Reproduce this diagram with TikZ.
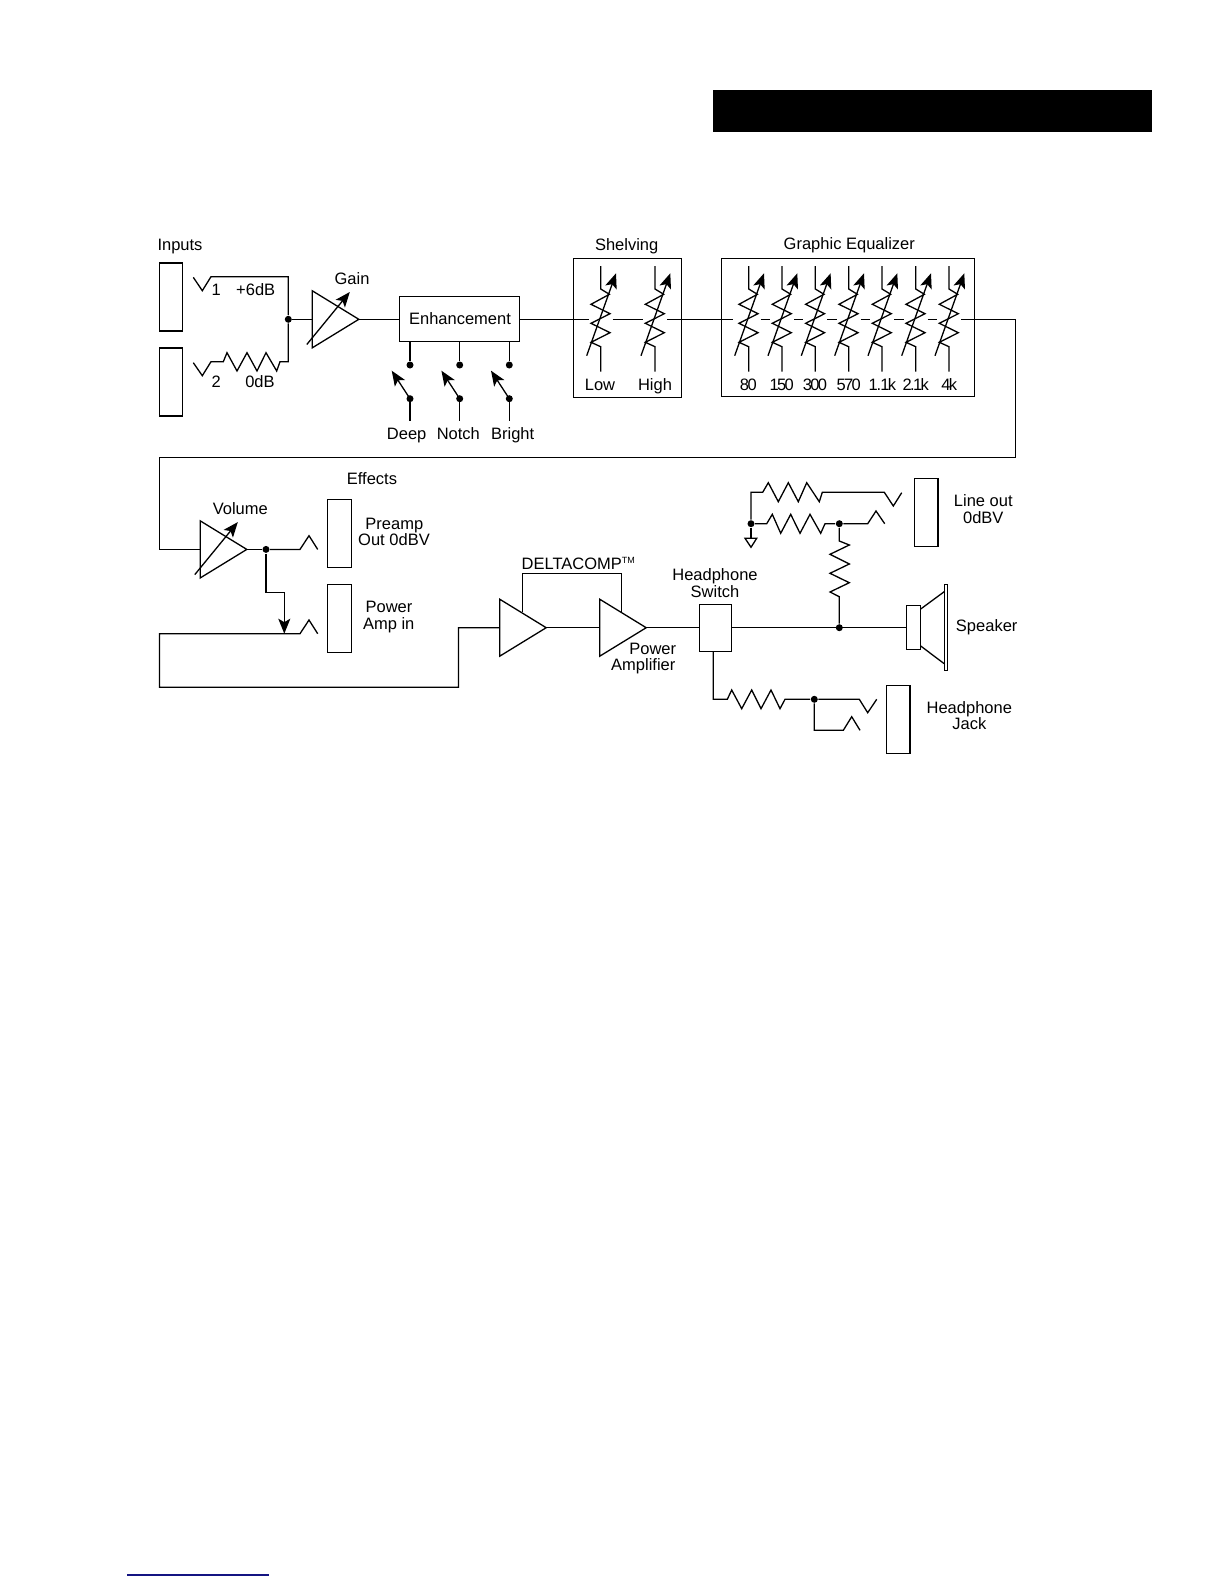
\documentclass[tikz,border=0pt]{standalone}
\usepackage{fontspec}
\setmainfont{Liberation Sans}
\usetikzlibrary{arrows.meta,calc}
\definecolor{rulenavy}{RGB}{20,20,130}
\tikzset{
  x=1pt,y=-1pt,
  every path/.style={line width=1.3pt,line join=miter},
  lbl/.style={inner sep=0pt,outer sep=0pt,text height=11.8pt,text depth=0pt,font=\fontsize{16.5}{18}\selectfont,text=black},
  numlbl/.style={lbl,font=\fontsize{16.5}{18}\selectfont\addfontfeature{LetterSpace=-10}},
  boxn/.style={draw,inner sep=0pt,outer sep=0pt,fill=white},
  jackbox/.style={boxn,minimum width=23.5pt,minimum height=68pt},
  jdot/.style={circle,fill=black,draw=none,inner sep=0pt,minimum size=7pt},
  arr/.style={-{Stealth[length=15pt,width=12pt,inset=3.5pt]}},
  varres/.pic={
    \coordinate (-w) at (-12,0);
    \coordinate (-e) at (12,0);
    \draw (0,-53.3)--(0,-30.3)--(8.7,-25)--(-9.7,-15)--(9.3,-5.6)--(-9.7,4)--(9.3,13.4)--(-9.7,23)--(0,27.4)--(0,52.4);
    \draw[arr] (-14,36.4)--(15.3,-46);
  },
  amp/.pic={
    \coordinate (-in) at (0,0);
    \coordinate (-out) at (46.5,0);
    \draw (0,-28.5)--(0,28.5)--(46.5,0)--cycle;
  },
  varamp/.pic={
    \coordinate (-in) at (0,0);
    \coordinate (-out) at (46.5,0);
    \draw (0,-28.5)--(0,28.5)--(46.5,0)--cycle;
    \draw[arr] (-5.5,25.2)--(37.5,-27.3);
  },
  swpole/.pic={
    \coordinate (-p) at (0,0);
    \node[jdot] at (0,0) {};
    \draw[arr] (0,0)--(-18.3,-28);
  }
}
\begin{document}
\begin{tikzpicture}
\useasboundingbox (0,0) rectangle (1224,1584);
% header and foot rule
\fill[black] (713,89.7) rectangle (1152,131.7);
\draw[rulenavy,line width=1.4pt] (127,1575)--(269,1575);

% input section
\node[lbl] (tInputs) at (180,245) {Inputs};
\node[jackbox] (in1) at (171,297) {};
\node[jackbox] (in2) at (171,382) {};
\node[jdot] (jn1) at (288.3,319.3) {};
\coordinate (j1a) at (193.3,277.3);
\coordinate (j2a) at (193.3,362.7);
\draw (j1a)--(202.3,290.7)--(211,276.7)--(288.3,276.7)--(jn1);
\draw (j2a)--(202.3,375.7)--(211,361.7)--(223.3,361.7)--(227,352.7)--(237,371)--(247,352.7)--(257,371)--(266,352.7)--(276.7,371)--(280,361.7)--(288.3,361.7)--(jn1);
\node[lbl] (t1) at (216.3,289.3) {1};
\node[lbl] (t6) at (255.7,289.3) {+6dB};
\node[lbl] (t2) at (216.3,381.7) {2};
\node[lbl] (t0) at (260,381.7) {0dB};
\pic (gain) at (312.3,319.3) {varamp};
\node[lbl] (tGain) at (352,278.7) {Gain};
\draw (jn1)--(gain-in);

% enhancement
\node[boxn,minimum width=120.4pt,minimum height=45pt] (enh) at (459.5,319.3) {};
\node[lbl] (tEnh) at (460,318.7) {Enhancement};
\draw (gain-out)--(enh.west);
\node[jdot] (d1) at (410,365) {};
\node[jdot] (d2) at (459.7,365) {};
\node[jdot] (d3) at (509.3,365) {};
\draw[line width=1.7pt] (d1|-enh.south)--(d1);
\draw (d2|-enh.south)--(d2);
\draw (d3|-enh.south)--(d3);
\pic (s1) at (410,398.7) {swpole};
\pic (s2) at (459.7,398.7) {swpole};
\pic (s3) at (509.3,398.7) {swpole};
\coordinate (e1) at (410,420.7);
\coordinate (e2) at (459.7,420.7);
\coordinate (e3) at (509.3,420.7);
\draw[line width=1.7pt] (s1-p)--(e1);
\draw (s2-p)--(e2);
\draw (s3-p)--(e3);
\node[lbl] (tDeep) at (406.7,433.3) {Deep};
\node[lbl] (tNotch) at (458.3,433.3) {Notch};
\node[lbl] (tBright) at (512.7,433.3) {Bright};

% shelving
\node[lbl] (tShelv) at (626.7,244.3) {Shelving};
\node[boxn,minimum width=108.4pt,minimum height=139pt] (shelf) at (627.5,327.8) {};
\pic (lo) at (600.7,319.3) {varres};
\pic (hi) at (655,319.3) {varres};
\node[lbl] (tLow) at (600,384.3) {Low};
\node[lbl] (tHigh) at (655,384.3) {High};
\draw (enh.east)--(lo-w);
\draw (lo-e)--(hi-w);

% graphic equaliser
\node[lbl] (tGeq) at (849.3,244) {Graphic Equalizer};
\node[boxn,minimum width=252.6pt,minimum height=138pt] (geq) at (848,327.3) {};
\pic (q1) at (748.7,319.3) {varres};
\pic (q2) at (782,319.3) {varres};
\pic (q3) at (815.3,319.3) {varres};
\pic (q4) at (848.7,319.3) {varres};
\pic (q5) at (882,319.3) {varres};
\pic (q6) at (915.7,319.3) {varres};
\pic (q7) at (949,319.3) {varres};
\coordinate (q1in) at (733.3,319.3);
\draw (hi-e)--(q1in);
\draw (q1-e)--(q2-w);
\draw (q2-e)--(q3-w);
\draw (q3-e)--(q4-w);
\draw (q4-e)--(q5-w);
\draw (q5-e)--(q6-w);
\draw (q6-e)--(q7-w);
\node[numlbl] (f1) at (748.3,384.3) {80};
\node[numlbl] (f2) at (781.7,384.3) {150};
\node[numlbl] (f3) at (815,384.3) {300};
\node[numlbl] (f4) at (848.7,384.3) {570};
\node[numlbl] (f5) at (882.3,384.3) {1\kern-1pt.\kern-1pt1k};
\node[numlbl] (f6) at (915.7,384.3) {2.1k};
\node[numlbl] (f7) at (949.3,384.3) {4k};

% volume and effects loop
\pic (vol) at (200.3,549.4) {varamp};
\draw (q7-e)--(1015.4,319.3)--(1015.4,457.7)--(159.4,457.7)--(159.4,549.4)--(vol-in);
\node[lbl] (tVol) at (240.3,509) {Volume};
\node[lbl] (tFx) at (372,479) {Effects};
\node[jackbox] (fx1) at (339.5,533.3) {};
\node[jackbox] (fx2) at (339.5,618.3) {};
\node[lbl] (tP1) at (394.3,523.3) {Preamp};
\node[lbl] (tP2) at (394,540) {Out 0dBV};
\node[lbl] (tA1) at (389,606.7) {Power};
\node[lbl] (tA2) at (388.7,623.3) {Amp in};
\node[jdot] (jv) at (266,549.4) {};
\coordinate (sendtip) at (317.7,549.4);
\draw (vol-out)--(jv);
\draw (jv)--(300,549.4)--(309,535.7)--(sendtip);
\coordinate (retn) at (284.3,633.7);
\draw[arr] (jv)--(266,592.7)--(284.3,592.7)--(retn);

% power section
\pic (dc) at (499.7,627.7) {amp};
\pic (pa) at (599.7,627.7) {amp};
\coordinate (rettip) at (317.7,633.7);
\draw (rettip)--(309,620)--(300,633.7)--(159.4,633.7)--(159.4,687.3)--(458.5,687.3)--(458.5,627.7)--(dc-in);
\draw (dc-out)--(pa-in);
\draw (522.3,611.7)--(522.3,573.3)--(621.7,573.3)--(621.7,611.7);
\node[lbl] (tDc) at (578.3,563.3) {DELTACOMP\raisebox{5.5pt}{\fontsize{9}{9}\selectfont TM}};
\node[lbl] (tPa1) at (652.7,648.3) {Power};
\node[lbl] (tPa2) at (643.3,665) {Amplifier};
\node[lbl] (tHs1) at (715,575) {Headphone};
\node[lbl] (tHs2) at (715,592) {Switch};
\node[boxn,minimum width=32.4pt,minimum height=47pt] (hsw) at (715.5,627.7) {};
\draw (pa-out)--(hsw.west);

% speaker
\node[jdot] (js) at (839.3,627.7) {};
\node[boxn,minimum width=14pt,minimum height=44pt] (spk) at (913.7,627.7) {};
\node[boxn,minimum width=3.2pt,minimum height=86pt] (cone) at (945.8,627.3) {};
\draw (hsw.east)--(spk.west);
\draw (920.7,609)--(944.2,591.7);
\draw (920.7,646)--(944.2,663.7);
\node[lbl] (tSpk) at (986.7,625.7) {Speaker};

% line out
\node[jackbox] (lo1) at (926.3,512.3) {};
\node[lbl] (tL1) at (983.3,500.7) {Line out};
\node[lbl] (tL2) at (983.3,517.3) {0dBV};
\node[jdot] (jg) at (751,523.7) {};
\node[jdot] (jr) at (839.3,523.7) {};
\draw (jg)--(751,492.3)--(762.7,492.3)--(768.3,482.7)--(778.3,501.7)--(788.3,482.7)--(798.3,501.7)--(806.7,482.7)--(819.3,501.7)--(822.3,492.3)--(884.3,492.3)--(893.3,506)--(901.7,492.7);
\draw (jg)--(766.7,523.7)--(772.3,514.3)--(780.7,533.3)--(790.7,514.3)--(800,533.3)--(810,514.3)--(820.7,533.3)--(825,523.7)--(jr);
\draw (jr)--(867.7,523.7)--(876,511)--(884.7,523.7);
\draw (jg)--(751,538.3);
\draw (745,538.3)--(756.7,538.3)--(751,547.3)--cycle;
\draw (jr)--(839.3,541)--(849.3,545)--(830,554.3)--(849.3,564)--(830,573.3)--(849.3,582.7)--(830,592)--(839.3,596.7)--(js);

% headphone output
\node[jackbox] (hp) at (898.3,719.3) {};
\node[lbl] (tH1) at (969.3,707.3) {Headphone};
\node[lbl] (tH2) at (969.3,724) {Jack};
\node[jdot] (jh) at (814.3,699.3) {};
\draw (713.3,652.2)--(713.3,699.3)--(727.3,699.3)--(731.7,690)--(741.7,708.7)--(751.7,690)--(761,708.7)--(771,690)--(780,708.7)--(785,699.3)--(jh);
\draw (jh)--(859.3,699.3)--(867.7,712.7)--(876.7,699.3);
\draw (jh)--(814.3,730.3)--(843.3,730.3)--(851.7,716.7)--(860,730.3);
\end{tikzpicture}
\end{document}
